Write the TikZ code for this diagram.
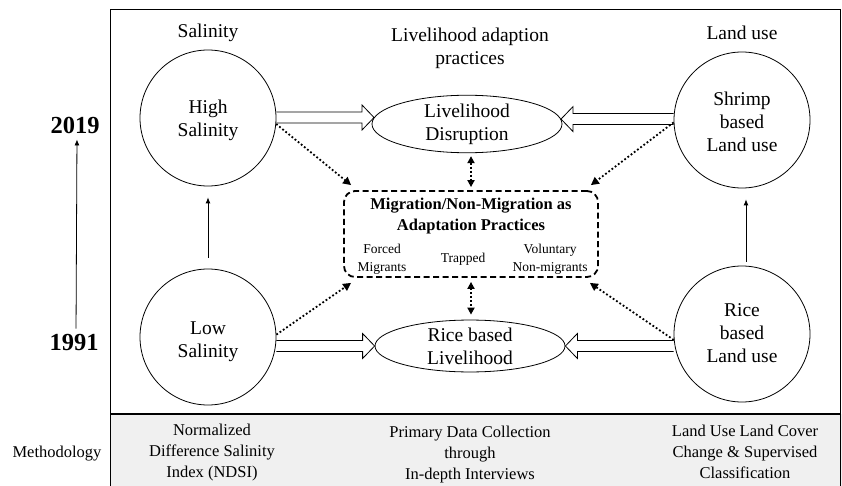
\documentclass[tikz,border=0pt]{standalone}
\usepackage{fontspec}
\setmainfont{Liberation Serif}
\usetikzlibrary{shapes.geometric,arrows.meta,calc}
\newcommand\holarrow[2]{%
  \coordinate (ha-h) at ($(#2)!12pt!(#1)$);
  \draw[line width=0.8pt] ($(#1)!5.5pt!90:(#2)$) -- ($(ha-h)!5.5pt!90:(#2)$) -- ($(ha-h)!12.5pt!90:(#2)$) -- (#2) -- ($(ha-h)!12.5pt!-90:(#2)$) -- ($(ha-h)!5.5pt!-90:(#2)$) -- ($(#1)!5.5pt!-90:(#2)$);
}
\begin{document}
\begin{tikzpicture}[x=1pt,y=-1pt,
  bigtext/.style={font=\fontsize{19.5}{23}\selectfont, align=center, inner sep=0pt},
  circ/.style={draw, circle, minimum size=136pt, inner sep=0pt, line width=0.8pt},
  ell/.style={draw, ellipse, minimum width=190pt, minimum height=48pt, inner sep=0pt, line width=0.8pt, bigtext},
  methtext/.style={font=\fontsize{16.5}{21}\selectfont, align=center, inner sep=0pt},
  smalltext/.style={font=\fontsize{13.5}{18}\selectfont, align=center, inner sep=0pt},
  dotarrow/.style={line width=1.8pt, dash pattern=on 1.8pt off 2.2pt, -{Triangle[length=8pt,width=8pt]}},
  dotdouble/.style={line width=1.8pt, dash pattern=on 1.8pt off 2.2pt, {Triangle[length=7pt,width=7pt]}-{Triangle[length=7pt,width=7pt]}},
  solidarrow/.style={line width=0.8pt, -{Latex[length=6pt,width=5pt]}}
]
\useasboundingbox (0,0) rectangle (842,486);
% bottom band
\fill[gray!12] (110,414) rectangle (842,486);
\draw[line width=0.8pt] (110,486) -- (110,9.5) -- (840,9.5) -- (840,486);
\draw[line width=1.6pt] (110,414) -- (840,414);

% headings
\node[bigtext] (hsal) at (208,32.5) {Salinity};
\node[bigtext] (hliv) at (470,48) {Livelihood adaption\\practices};
\node[bigtext] (hland) at (742,33) {Land use};

% circles
\node[circ] (hs) at (208,118) {};
\node[circ] (ls) at (208,337) {};
\node[circ] (sh) at (742,120) {};
\node[circ] (rc) at (742,334) {};
\node[bigtext] (hst) at (208,120.5) {High\\Salinity};
\node[bigtext] (lst) at (208,341.5) {Low\\Salinity};
\node[bigtext] (sht) at (742,122) {Shrimp\\based\\Land use};
\node[bigtext] (rct) at (742,333) {Rice\\based\\Land use};

% ellipses
\node[ell] (ld) at (467,124) {Livelihood\\Disruption};
\node[ell] (rb) at (470,346) {Rice based\\Livelihood};

% central box
\node[draw, rounded corners=11pt, dash pattern=on 6pt off 3.5pt, line width=1.8pt,
      minimum width=254pt, minimum height=86pt, inner sep=0pt] (box) at (471,234) {};
\node[font=\bfseries\fontsize{16.5}{21}\selectfont, align=center, inner sep=0pt] (btitle) at (471,216.5) {Migration/Non-Migration as\\Adaptation Practices};
\node[smalltext] (forced) at (382,259) {Forced\\Migrants};
\node[smalltext] (trapped) at (463,259) {Trapped};
\node[smalltext] (volun) at (550,259) {Voluntary\\Non-migrants};

% hollow arrows
\coordinate (p1e) at (ld.176); \coordinate (p1s) at (hs.east |- p1e);
\coordinate (p2e) at (ld.3);   \coordinate (p2s) at (sh.west |- p2e);
\coordinate (p3e) at (rb.west); \coordinate (p3s) at (ls.east |- p3e);
\coordinate (p4e) at (rb.east); \coordinate (p4s) at (rc.west |- p4e);
\holarrow{p1s}{p1e}
\holarrow{p2s}{p2e}
\holarrow{p3s}{p3e}
\holarrow{p4s}{p4e}

% dotted arrows
\coordinate (t1) at ($(box.north west)+(8,-5)$);
\coordinate (t2) at ($(box.north east)+(-8,-5)$);
\coordinate (t3) at ($(box.south west)+(8,5)$);
\coordinate (t4) at ($(box.south east)+(-9,5)$);
\draw[dotarrow] (hs.-5) -- (t1);
\draw[dotarrow] (sh.182) -- (t2);
\draw[dotarrow] (ls.2) -- (t3);
\draw[dotarrow] (rc.185) -- (t4);
\draw[dotdouble, shorten <=3pt, shorten >=3pt] (ld.south -| box.north) -- (box.north);
\draw[dotdouble, shorten <=4pt, shorten >=5pt] (box.south) -- (box.south |- rb.north);

% solid arrows
\draw[solidarrow, shorten <=11pt, shorten >=11pt] (ls.north) -- (hs.south);
\draw[solidarrow, shorten <=4pt, shorten >=11pt] ($(rc.north)+(4,0)$) -- ($(sh.south)+(4,0)$);

% time axis
\node[font=\bfseries\fontsize{24.5}{28}\selectfont, inner sep=0pt] (y19) at (75,125) {2019};
\node[font=\bfseries\fontsize{24.5}{28}\selectfont, inner sep=0pt] (y91) at (74,343) {1991};
\draw[solidarrow, shorten <=6pt, shorten >=6pt] ($(y91.north)+(2,0)$) -- ($(y19.south)+(2,0)$);

% methodology
\node[methtext] (meth) at (57,454) {Methodology};
\node[methtext] (m1) at (212,453) {Normalized\\Difference Salinity\\Index (NDSI)};
\node[methtext] (m2) at (470,455) {Primary Data Collection\\through\\In-depth Interviews};
\node[methtext] (m3) at (745,452) {Land Use Land Cover\\Change \& Supervised\\Classification};
\end{tikzpicture}
\end{document}
